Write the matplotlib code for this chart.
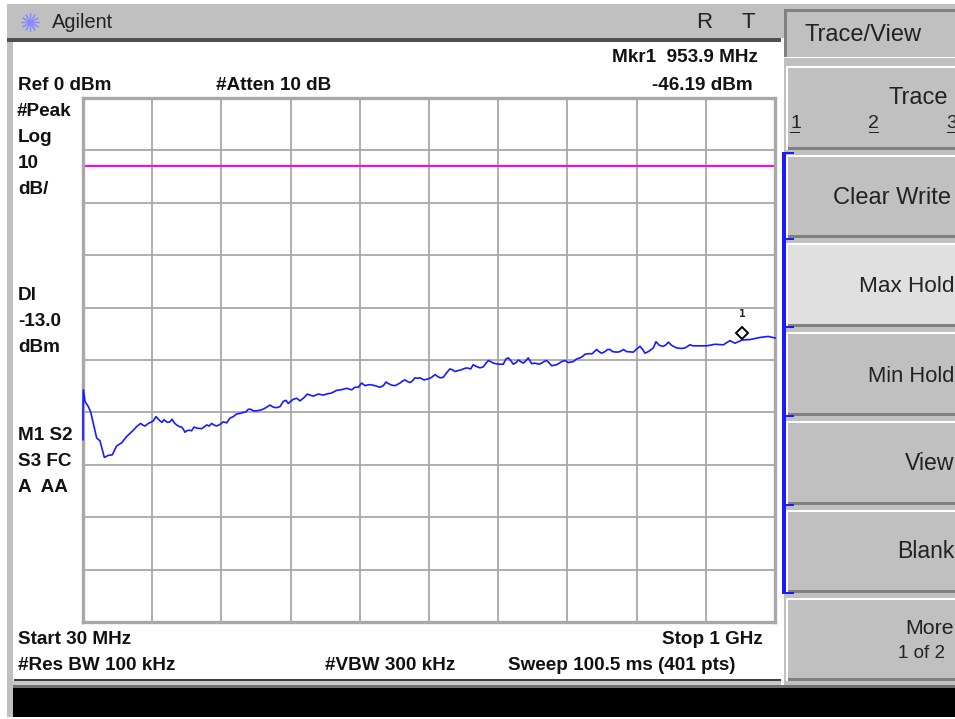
import matplotlib
matplotlib.use("Agg")
import matplotlib.pyplot as plt
from matplotlib.patches import Rectangle

# trace: MHz / dBm
freq = [30.0, 30.0, 30.5, 32.8, 37.5, 40.7, 44.5, 49.2, 53.8, 59.9, 65.5, 71.1, 77.2, 84.2, 91.2, 100.5,
        105.2, 110.8, 116.9, 126.2, 132.3, 137.9, 143.5, 148.2, 154.7, 161.3, 168.3, 173.0, 179.0, 185.6,
        196.3, 203.3, 210.3, 217.3, 226.7, 236.0, 245.4, 254.7, 261.7, 268.7, 280.4, 292.1, 301.4, 310.8,
        317.8, 324.8, 334.2, 341.2, 348.2, 371.5, 385.5, 399.6, 415.9, 420.6, 432.3, 446.3, 454.7, 462.7,
        474.4, 481.4, 488.4, 495.4, 502.4, 514.1, 523.4, 530.4, 544.4, 551.5, 563.1, 577.1, 586.5, 598.2,
        605.2, 619.2, 626.2, 633.2, 640.2, 647.2, 654.2, 658.9, 672.9, 679.9, 687.0, 701.0, 710.3, 726.7,
        733.7, 743.9, 750.0, 757.0, 768.7, 778.0, 787.4, 801.4, 810.7, 817.8, 829.4, 833.2, 843.4, 850.5,
        862.1, 873.8, 880.8, 894.9, 904.2, 915.9, 927.6, 936.9, 943.9, 953.9, 965.0, 979.0, 990.6, 1000.0]
level = [-65.2, -60.5, -55.7, -57.9, -58.9, -59.9, -62.1, -64.9, -65.4, -68.6, -68.2, -68.1, -66.4, -65.8, -64.6, -63.4,
         -62.7, -62.1, -62.6, -61.8, -60.8, -61.6, -61.4, -61.9, -61.3, -62.4, -62.8, -63.8, -63.4, -62.8,
         -63.1, -62.4, -62.1, -62.6, -61.8, -61.1, -60.3, -60.0, -59.4, -59.7, -59.5, -58.6, -59.1, -57.9,
         -58.3, -57.5, -57.8, -57.0, -56.7, -56.5, -55.8, -55.4, -55.2, -54.4, -54.7, -55.2, -54.2, -54.8,
         -54.4, -53.8, -54.3, -53.4, -53.4, -53.6, -52.8, -53.4, -51.7, -52.2, -51.7, -50.9, -51.5, -50.1,
         -50.6, -50.8, -49.6, -50.8, -50.0, -50.6, -49.6, -50.7, -50.6, -50.1, -51.1, -50.3, -50.5, -49.6,
         -48.9, -48.8, -48.0, -48.7, -48.0, -48.5, -48.0, -48.5, -47.4, -48.7, -47.7, -46.5, -47.4, -46.6,
         -47.7, -47.7, -47.1, -47.3, -47.3, -47.0, -47.1, -46.3, -46.8, -46.19, -46.1, -45.7, -45.5, -45.8]

# second pass over the trace, the finer wiggles between the points above
freq_fine = [81.9, 95.0, 113.6, 121.6, 128.6, 135.6, 140.7, 152.0, 158.0, 165.0, 170.6, 175.3, 182.3, 189.3,
             199.6, 207.0, 213.6, 222.0, 231.4, 240.7, 250.0, 258.5, 265.0, 273.4, 285.1, 296.8, 306.1, 314.5,
             321.0, 329.5, 338.8, 344.4, 352.8, 359.8, 366.9, 378.5, 391.2, 406.6, 411.2, 425.3, 427.6, 439.3,
             451.0, 458.0, 467.4, 478.1, 484.6, 491.7, 498.7, 508.0, 518.7, 526.7, 535.1, 539.8, 548.2, 556.1,
             559.9, 567.8, 573.4, 580.9, 591.2, 594.9, 601.4, 612.2, 622.9, 629.5, 637.0, 643.5, 651.0, 663.6,
             669.2, 676.2, 683.7, 694.0, 697.7, 705.6, 717.3, 722.0, 730.4, 738.3, 746.7, 753.3, 761.7, 765.0,
             772.4, 782.7, 792.1, 806.1, 814.5, 822.4, 837.8, 847.2, 855.1, 869.1, 885.5]
level_fine = [-66.0, -64.1, -62.4, -62.1, -61.6, -61.3, -61.9, -61.8, -62.0, -62.7, -63.2, -63.5, -63.5, -63.0,
              -62.8, -62.6, -62.4, -62.3, -62.0, -60.8, -60.2, -59.9, -59.4, -59.7, -59.2, -59.0, -58.9, -57.7,
              -57.9, -57.3, -57.3, -56.5, -56.9, -56.5, -56.7, -56.3, -55.7, -55.7, -55.2, -54.9, -54.8, -54.9,
              -54.9, -54.5, -54.9, -54.0, -54.1, -54.0, -53.5, -53.8, -53.3, -53.1, -53.3, -52.4, -51.9, -52.0,
              -51.9, -51.5, -51.7, -51.2, -51.3, -50.6, -50.3, -50.8, -49.8, -50.1, -50.5, -50.3, -50.1, -50.6,
              -50.8, -50.3, -50.6, -50.9, -50.6, -50.1, -50.3, -49.8, -49.3, -48.8, -48.4, -48.4, -48.4, -48.0,
              -48.4, -48.4, -48.4, -47.9, -48.0, -48.4, -47.2, -47.1, -47.2, -47.8, -47.3]

start_mhz = 30
stop_mhz = 1000
ref_dbm = 0
db_per_div = 10
display_line = -13.0
marker_freq = 953.9
marker_level = -46.19

W, H = 955, 719
GREY = "#c0c0c0"
GRID = "#a8a8a8"
BLUE = "#1a1aff"

fig = plt.figure(figsize=(W / 100, H / 100), dpi=100, facecolor="white")

# whole-figure axes in pixels for the instrument frame
bg = fig.add_axes([0, 0, 1, 1])
bg.set_xlim(0, W)
bg.set_ylim(H, 0)
bg.axis("off")


def box(x0, y0, x1, y1, color, z=1):
    bg.add_patch(Rectangle((x0, y0), x1 - x0, y1 - y0, facecolor=color, edgecolor="none", zorder=z))


def softkey(y0, y1, color=GREY):
    box(786, y0, 955, y1, "white", 2)
    box(788, y0 + 2, 955, y1, color, 2)
    box(788, y1 - 3, 955, y1, "#808080", 2)


def label(x, y, s, ha="left"):
    bg.text(x, y, s, ha=ha, va="center", fontsize=13.6, fontweight="bold", family="Liberation Sans",
            color="#111111", zorder=5)


def keytext(x, y, s, ha="right", size=17):
    bg.text(x, y, s, ha=ha, va="center", fontsize=size, family="Liberation Sans", color="#222222", zorder=5)


# frame
box(7, 4, 781, 38, GREY)
box(781, 4, 955, 688, GREY)
box(7, 38, 13, 717, GREY)
box(7, 38, 781, 42, "#505050")
box(14, 42, 781, 680, "white")
box(781, 38, 784, 688, "white")
box(14, 679, 781, 681, "#404040")
box(13, 681, 781, 685, "#c8c8c8")
box(13, 685, 955, 688, "#707070")
box(13, 688, 955, 717, "black")

# softkeys
box(784, 9, 955, 57, "#808080", 2)
box(787, 12, 955, 57, GREY, 2)
box(784, 57, 955, 58, "white", 2)
softkey(66, 150)
softkey(155, 238)
softkey(243, 327, "#e0e0e0")
softkey(332, 416)
softkey(421, 505)
softkey(510, 593)
softkey(598, 681)

# blue bracket of the selected group
box(782, 152, 786, 594, BLUE, 3)
for y in [153, 239, 327, 416, 505, 593]:
    box(782, y - 1, 794, y + 1, BLUE, 3)

# header text
bg.plot([30], [22], marker=(12, 2, 0), ms=13, mew=0.9, color="#8a8aff", zorder=5)
bg.text(52, 23, "Agilent", fontsize=14.4, family="Liberation Sans", va="center", color="#222222")
bg.text(704, 23, "R", fontsize=16, family="Liberation Sans", va="center", ha="center", color="#222222")
bg.text(748, 23, "T", fontsize=16, family="Liberation Sans", va="center", ha="center", color="#222222")

keytext(804, 35, "Trace/View", ha="left")
keytext(948, 98, "Trace")
keytext(951, 198, "Clear Write")
keytext(954, 286, "Max Hold", size=16.2)
keytext(954, 376, "Min Hold", size=15.8)
keytext(954, 463, "View", size=16.6)
keytext(954, 552, "Blank", size=16.6)
keytext(954, 628, "More", size=15.4)
keytext(945, 654, "1 of 2", size=13.5)
keytext(790, 123, "1", ha="left", size=14)
keytext(868, 123, "2", ha="left", size=14)
keytext(946, 123, "3", ha="left", size=14)
box(790, 132, 800, 133, "#222222", 5)
box(869, 132, 879, 133, "#222222", 5)
box(947, 132, 955, 133, "#222222", 5)

# annotations
label(612, 58, "Mkr1  953.9 MHz")
label(18, 85, "Ref 0 dBm")
label(216, 85, "#Atten 10 dB")
label(753, 85, "-46.19 dBm", ha="right")
label(17, 111, "#Peak")
label(18, 138, "Log")
label(18, 164, "10")
label(18, 190, "dB/")
label(18, 296, "Dl")
label(18, 322, "-13.0")
label(18, 347, "dBm")
label(18, 435, "M1 S2")
label(18, 461, "S3 FC")
label(18, 488, "A  AA")
label(18, 639, "Start 30 MHz")
label(763, 639, "Stop 1 GHz", ha="right")
label(18, 666, "#Res BW 100 kHz")
label(325, 666, "#VBW 300 kHz")
label(508, 666, "Sweep 100.5 ms (401 pts)")

# the graticule
ax = fig.add_axes([83 / W, 1 - 622 / H, (775 - 83) / W, (622 - 98) / H])
ax.set_xlim(start_mhz, stop_mhz)
ax.set_ylim(ref_dbm - 10 * db_per_div, ref_dbm)
step = (stop_mhz - start_mhz) / 10
ax.set_xticks([start_mhz + i * step for i in range(1, 10)])
ax.set_yticks([ref_dbm - i * db_per_div for i in range(1, 10)])
ax.tick_params(length=0, labelbottom=False, labelleft=False)
ax.grid(color=GRID, lw=1.3)
ax.set_axisbelow(True)
for s in ax.spines.values():
    s.set_color(GRID)
    s.set_linewidth(2.4)

ax.axhline(display_line, color="#ff00ff", lw=1.5, zorder=2)

points = sorted(zip(freq + freq_fine, level + level_fine), key=lambda p: p[0])
ax.plot([p[0] for p in points], [p[1] for p in points], color=BLUE, lw=1.2, zorder=3, clip_on=False)

# marker sits a little above the trace, as on the instrument
ax.plot([marker_freq], [marker_level + 1.3], marker="D", ms=6.5, mfc="white", mec="black", mew=1.4, zorder=4)
ax.text(marker_freq, marker_level + 4.9, "1", fontsize=8, family="DejaVu Sans Mono", ha="center", va="center",
        fontweight="bold", color="#222222", zorder=4)

fig.savefig("out.png", dpi=100)
